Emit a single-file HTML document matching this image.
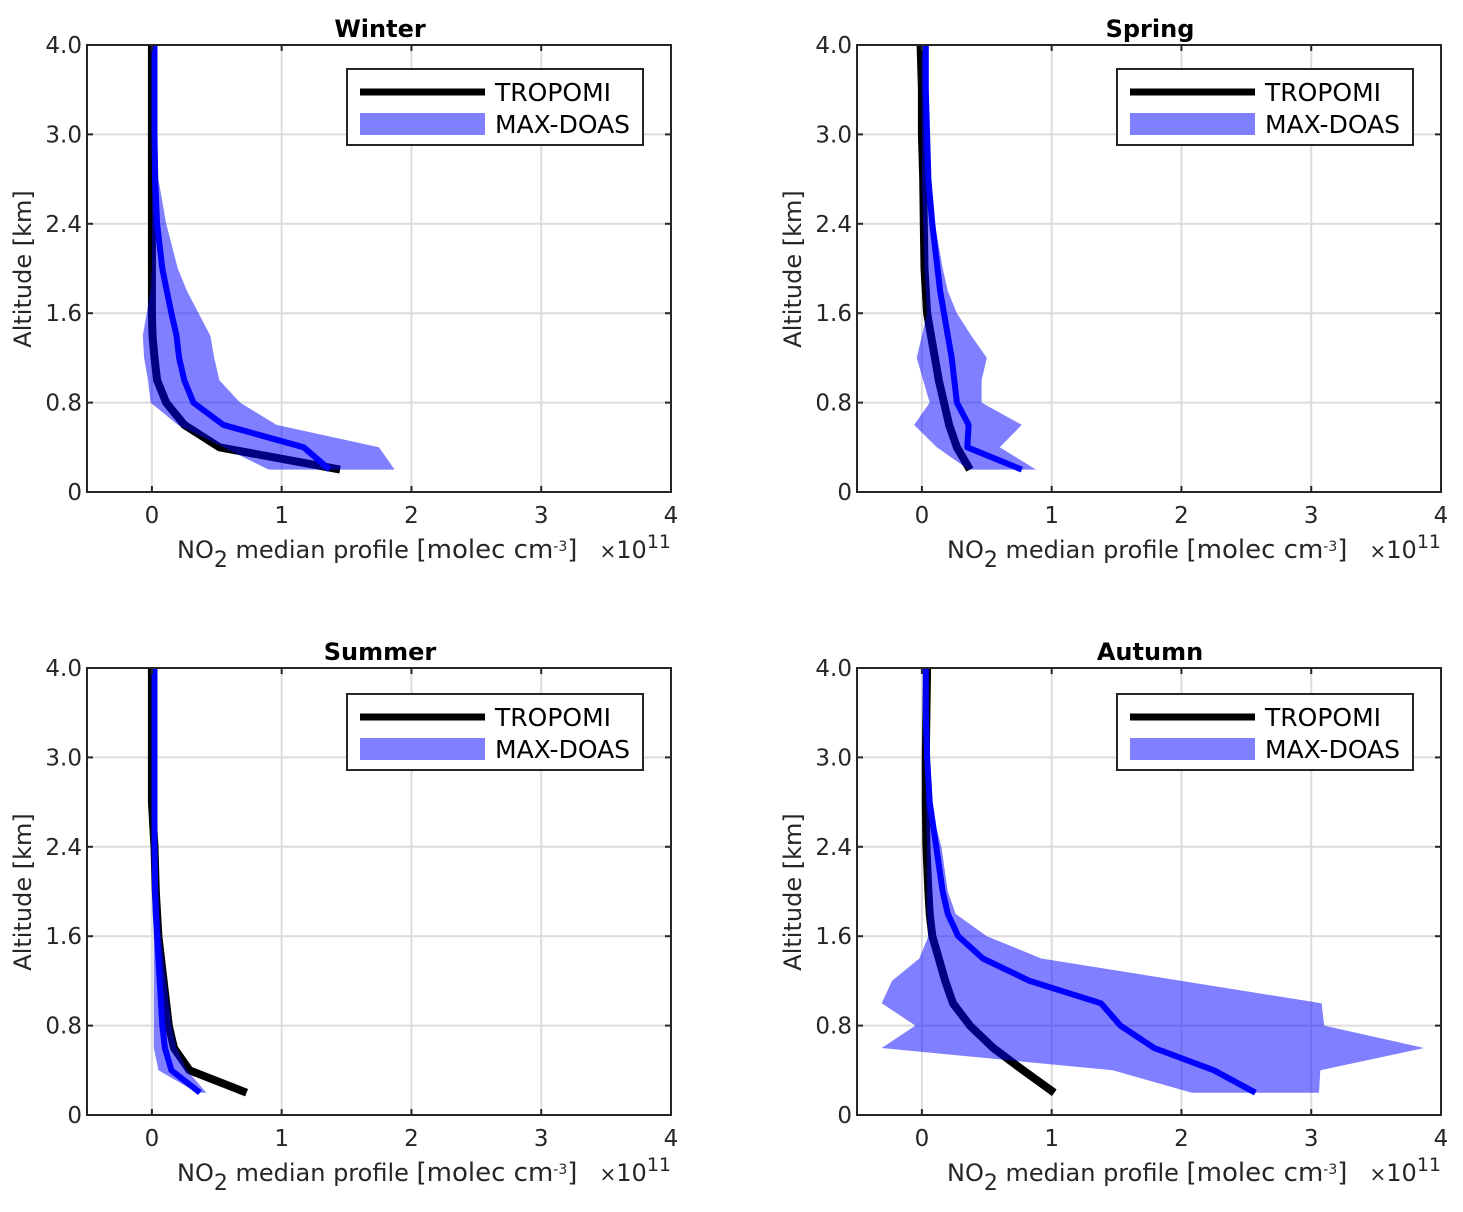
<!DOCTYPE html>
<html><head><meta charset="utf-8"><style>
body{margin:0;background:#fff;}
svg text{font-family:"DejaVu Sans","Liberation Sans",sans-serif;fill:#262626;}
</style></head><body>
<svg id="fig" width="1463" height="1207" xmlns="http://www.w3.org/2000/svg"></svg>
<script>
const altitudes = [0.2,0.4,0.6,0.8,1.0,1.2,1.4,1.6,1.8,2.0,2.4,2.8,3.2,3.6,4.0];
const seasonNames = ["Winter","Spring","Summer","Autumn"];
const xTicks = [0,1,2,3,4];
const yTicks = [0,0.8,1.6,2.4,3.2,4.0];
const yTickLabels = ["0","0.8","1.6","2.4","3.0","4.0"];
// TROPOMI profiles (x 1e11)
const tropWinter = [1.45,0.52,0.25,0.11,0.04,0.02,0.005,0.0,0.0,0.0,0.0,0.0,0.0,0.0,0.0];
const tropSpring = [0.37,0.27,0.21,0.17,0.13,0.10,0.07,0.04,0.03,0.02,0.015,0.01,0.0,0.0,-0.01];
const tropSummer = [0.73,0.29,0.17,0.13,0.11,0.09,0.07,0.05,0.04,0.03,0.02,0.0,0.0,0.0,0.0];
const tropAutumn = [1.02,0.78,0.55,0.37,0.24,0.18,0.13,0.08,0.06,0.05,0.035,0.03,0.03,0.035,0.04];
// MAX-DOAS median
const doasWinter = [1.37,1.17,0.55,0.32,0.25,0.21,0.19,0.15,0.115,0.08,0.04,0.025,0.02,0.02,0.02];
const doasSpring = [0.77,0.35,0.36,0.27,0.25,0.23,0.2,0.17,0.14,0.12,0.08,0.05,0.04,0.03,0.03];
const doasSummer = [0.37,0.15,0.10,0.08,0.07,0.06,0.05,0.04,0.03,0.025,0.02,0.02,0.02,0.02,0.02];
const doasAutumn = [2.57,2.25,1.79,1.53,1.38,0.83,0.47,0.28,0.20,0.16,0.11,0.06,0.04,0.03,0.03];
// MAX-DOAS band
const lowWinter = [0.9,0.55,0.2,-0.01,-0.03,-0.06,-0.07,-0.04,-0.01,0.0,0.0,0.0,0.0,0.0,0.0];
const highWinter = [1.87,1.75,0.96,0.68,0.52,0.48,0.45,0.36,0.27,0.2,0.11,0.05,0.04,0.03,0.03];
const lowSpring = [0.36,0.115,-0.06,0.06,0.01,-0.04,0.0,0.04,0.03,0.02,0.01,0.0,0.0,0.0,0.0];
const highSpring = [0.88,0.6,0.77,0.46,0.46,0.5,0.38,0.27,0.2,0.16,0.1,0.05,0.04,0.03,0.03];
const lowSummer = [0.35,0.05,0.015,0.015,0.015,0.015,0.015,0.015,0.01,0.01,0.0,0.0,0.0,0.0,0.0];
const highSummer = [0.42,0.27,0.19,0.15,0.13,0.11,0.09,0.07,0.06,0.05,0.04,0.03,0.03,0.03,0.03];
const lowAutumn = [2.08,1.47,-0.31,-0.05,-0.31,-0.23,-0.02,0.05,0.04,0.04,0.04,0.03,0.03,0.03,0.03];
const highAutumn = [3.06,3.07,3.87,3.1,3.08,2.0,0.92,0.5,0.26,0.2,0.15,0.06,0.05,0.04,0.04];

const trop=[tropWinter,tropSpring,tropSummer,tropAutumn];
const doas=[doasWinter,doasSpring,doasSummer,doasAutumn];
const lows=[lowWinter,lowSpring,lowSummer,lowAutumn];
const highs=[highWinter,highSpring,highSummer,highAutumn];

const NS="http://www.w3.org/2000/svg";
const svg=document.getElementById('fig');
function mk(tag,attrs,parent){const e=document.createElementNS(NS,tag);for(const k in attrs)e.setAttribute(k,attrs[k]);(parent||svg).appendChild(e);return e;}

const panels=[{l:87,t:45},{l:857,t:45},{l:87,t:668},{l:857,t:668}];
const W=584,H=447;
panels.forEach((p,i)=>{
  const g=mk('g',{});
  
  
  const sx=v=>p.l+(v+0.5)/4.5*W;
  const sy=v=>p.t+H-v/4*H;
  xTicks.forEach(v=>{const ln=mk('line',{x1:sx(v),x2:sx(v),y1:p.t,y2:p.t+H,stroke:'#dcdcdc','stroke-width':2},g);
    });
  yTicks.forEach(v=>{const ln=mk('line',{x1:p.l,x2:p.l+W,y1:sy(v),y2:sy(v),stroke:'#dcdcdc','stroke-width':2},g);
    });
  const path=(arr)=>arr.map((v,k)=>(k?'L':'M')+sx(v).toFixed(1)+','+sy(altitudes[k]).toFixed(1)).join('');
  const tl=mk('path',{d:path(trop[i]),fill:'none',stroke:'#000','stroke-width':8,'stroke-linejoin':'round'},g);
  
  const dl=mk('path',{d:path(doas[i]),fill:'none',stroke:'#0000ff','stroke-width':6,'stroke-linejoin':'round'},g);
  
  let d=lows[i].map((v,k)=>(k?'L':'M')+sx(v).toFixed(1)+','+sy(altitudes[k]).toFixed(1)).join('');
  for(let k=altitudes.length-1;k>=0;k--)d+='L'+sx(highs[i][k]).toFixed(1)+','+sy(altitudes[k]).toFixed(1);
  const band=mk('path',{d:d+'Z',fill:'#0000ff','fill-opacity':0.5,stroke:'none'},g);
  
  const box=mk('rect',{x:p.l,y:p.t,width:W,height:H,fill:'none',stroke:'#262626','stroke-width':2},g);
  
  xTicks.forEach(v=>{mk('line',{x1:sx(v),x2:sx(v),y1:p.t+H,y2:p.t+H-6,stroke:'#262626','stroke-width':2},g);
    mk('line',{x1:sx(v),x2:sx(v),y1:p.t,y2:p.t+6,stroke:'#262626','stroke-width':2},g);
    const t=mk('text',{x:sx(v),y:p.t+H+31,'text-anchor':'middle','font-size':23},g);t.textContent=v;
    });
  yTicks.forEach((v,k)=>{mk('line',{x1:p.l,x2:p.l+6,y1:sy(v),y2:sy(v),stroke:'#262626','stroke-width':2},g);
    mk('line',{x1:p.l+W,x2:p.l+W-6,y1:sy(v),y2:sy(v),stroke:'#262626','stroke-width':2},g);
    const t=mk('text',{x:p.l-5,y:sy(v)+8,'text-anchor':'end','font-size':23},g);t.textContent=yTickLabels[k];
    });
  const ti=mk('text',{x:p.l+W/2+1,y:p.t-8,'text-anchor':'middle','font-size':24,'font-weight':'bold'},g);
  ti.style.fill='#000';ti.textContent=seasonNames[i];
  
  const yl=mk('text',{x:0,y:0,'text-anchor':'middle','font-size':24,transform:`translate(${p.l-56},${p.t+224}) rotate(-90)`},g);
  yl.textContent='Altitude [km]';
  
  const xl=mk('text',{x:p.l+90,y:p.t+H+66,'font-size':24},g);
  xl.innerHTML='NO<tspan dy="9" font-size="22">2</tspan><tspan dy="-9"> median profile </tspan><tspan font-size="26">[molec cm</tspan><tspan dy="-7" font-size="14">-3</tspan><tspan dy="7" font-size="26">]</tspan>';
  
  const xs=mk('text',{x:p.l+W,y:p.t+H+66,'font-size':24,'text-anchor':'end'},g);
  xs.innerHTML='<tspan font-size="20">×</tspan>10<tspan dy="-10" font-size="19">11</tspan>';
  
  const lg=mk('g',{},g);
  
  const lx=p.l+260, ly=p.t+24+(i>=2?2:0);
  mk('rect',{x:lx,y:ly,width:296,height:76,fill:'#fff',stroke:'#262626','stroke-width':2},lg);
  mk('line',{x1:lx+13,x2:lx+138,y1:ly+23,y2:ly+23,stroke:'#000','stroke-width':7},lg);
  mk('rect',{x:lx+13,y:ly+44,width:125,height:22,fill:'#7f7fff'},lg);
  const t1=mk('text',{x:lx+148,y:ly+32,'font-size':25},lg);t1.style.fill='#000';t1.textContent='TROPOMI';
  
  const t2=mk('text',{x:lx+148,y:ly+64,'font-size':25},lg);t2.style.fill='#000';t2.textContent='MAX-DOAS';
  
});
</script>
</body></html>
